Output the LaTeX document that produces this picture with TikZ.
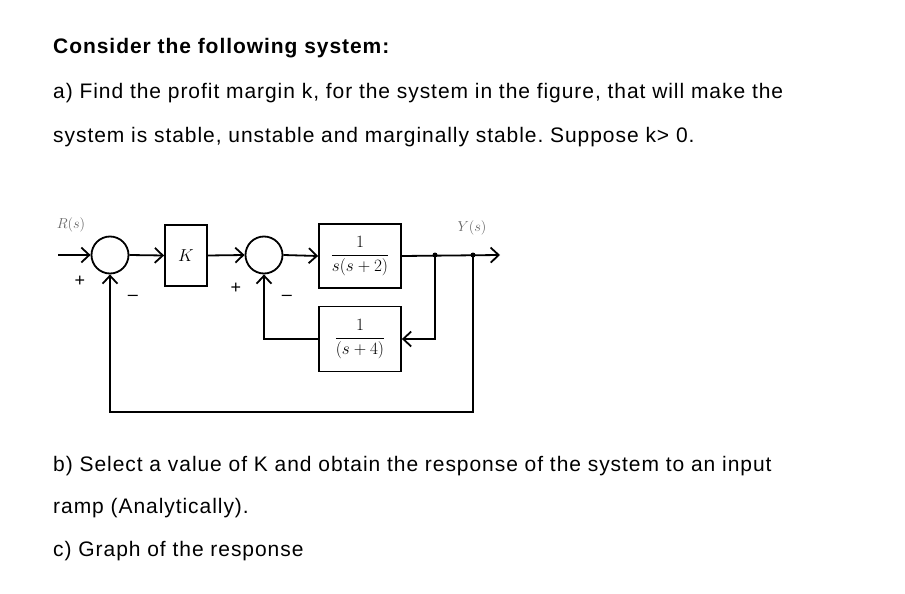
\documentclass[tikz,border=0pt]{standalone}
\usepackage{fontspec}
\setmainfont{Liberation Sans}
\newfontfamily\qfont[LetterSpace=4.5]{Liberation Sans}
\usetikzlibrary{arrows.meta}
\frenchspacing

\begin{document}
\begin{tikzpicture}[x=1pt,y=-1pt,line width=1.8pt,>={Straight Barb[length=8pt,width=15pt]},
  blk/.style={draw,inner sep=0pt,font=\fontsize{16.5}{18}\selectfont},
  sumj/.style={draw,circle,minimum size=37pt,inner sep=0pt},
  sig/.style={font=\fontsize{15}{15}\selectfont,text=black!60},
  sgn/.style={font=\fontsize{18}{18}\selectfont},
  txt/.style={anchor=base west,font=\fontsize{21}{24}\selectfont\qfont}]
\useasboundingbox (0,0) rectangle (905,594);

\node[txt,font=\fontsize{21}{24}\selectfont\qfont\bfseries] (t0) at (49,54) {Consider the following system:};
\node[txt] (t1) at (49,98.5) {a) Find the profit margin k, for the system in the figure, that will make the};
\node[txt] (t2) at (49,142) {system is stable, unstable and marginally stable. Suppose k> 0.};

\node[sumj] (s1) at (110,255) {};
\node[blk,minimum width=42pt,minimum height=61pt,font=\fontsize{18}{18}\selectfont] (k) at (186,255.5) {$K$};
\node[sumj] (s2) at (264,255) {};
\node[blk,minimum width=82pt,minimum height=64pt] (g) at (360,256) {$\displaystyle\frac{1}{s(s+2)}$};
\node[blk,minimum width=82pt,minimum height=65pt] (h) at (360,339) {$\displaystyle\frac{1}{(s+4)}$};

\coordinate (in) at (58,255);
\coordinate (d1) at (435,255);
\coordinate (d2) at (473,255);
\coordinate (out) at (500,255);
\coordinate (b2) at (473,412);

\node[sig] (r) at (71,225) {$R(s)$};
\node[sig] (y) at (472,228) {$Y(s)$};
\node[sgn] (p1) at (80,281) {+};
\node[sgn] (m1) at (133,298) {--};
\node[sgn] (p2) at (236,288) {+};
\node[sgn] (m2) at (287,298) {--};

\draw[->] (in) -- (s1.west);
\draw[->] (s1.east) -- (k.west);
\draw[->] (k.east) -- (s2.west);
\draw[->] (s2.east) -- (g.west);
\draw[->] (g.east) -- (out);
\draw[->] (d1) |- (h.east);
\draw[->] (h.west) -| (s2.south);
\draw[->] (d2) -- (b2) -| (s1.south);
\fill (d1) circle (2.5pt) (d2) circle (2.5pt);

\node[txt] (t3) at (49,471) {b) Select a value of K and obtain the response of the system to an input};
\node[txt] (t4) at (49,513) {ramp (Analytically).};
\node[txt] (t5) at (49,556.5) {c) Graph of the response};
\end{tikzpicture}
\end{document}
